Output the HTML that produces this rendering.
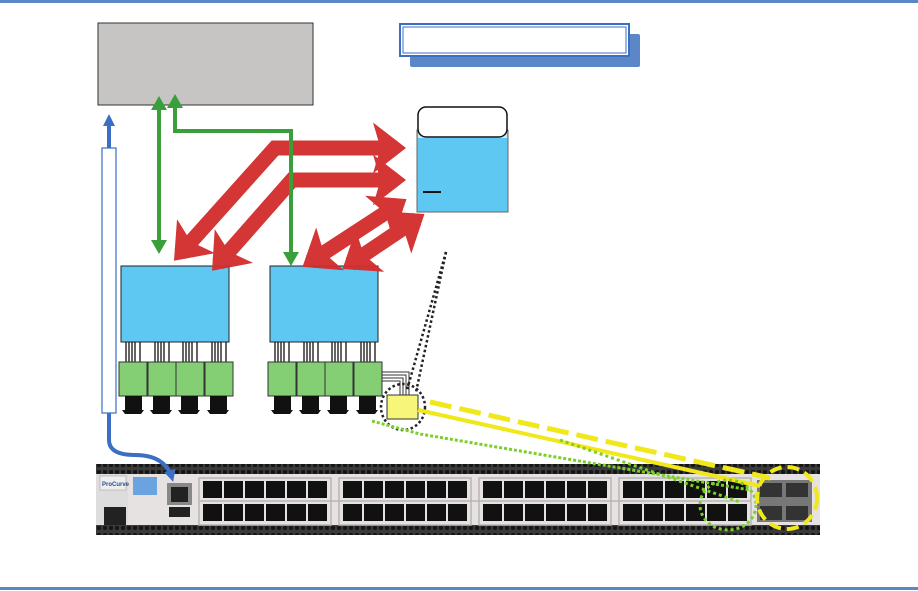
<!DOCTYPE html>
<html><head><style>body{margin:0;background:#fff}svg{display:block}</style></head><body>
<svg width="918" height="591" viewBox="0 0 918 591" xmlns="http://www.w3.org/2000/svg">
<defs>
<marker id="rh" markerWidth="2.2" markerHeight="3.4" refX="1.6" refY="1.7" orient="auto-start-reverse" markerUnits="strokeWidth"><path d="M0,0 L2.2,1.7 L0,3.4 L0.5,1.7 Z" fill="#d32f2f"/></marker>
<marker id="gh" markerWidth="3.5" markerHeight="4" refX="2.5" refY="2" orient="auto-start-reverse" markerUnits="strokeWidth"><path d="M0,0 L3.5,2 L0,4 Z" fill="#3a9e3a"/></marker>
<marker id="bh" markerWidth="3" markerHeight="3" refX="2" refY="1.5" orient="auto-start-reverse" markerUnits="strokeWidth"><path d="M0,0 L3,1.5 L0,3 Z" fill="#3a6fc4"/></marker>
<pattern id="dots" width="6" height="7" patternUnits="userSpaceOnUse"><rect width="6" height="7" fill="#3a3a3a"/><rect x="1" y="1" width="4" height="4" rx="1.5" fill="#151515"/></pattern>
</defs>
<rect x="0" y="0" width="918" height="3" fill="#5b86c8"/>
<rect x="0" y="587" width="918" height="3" fill="#5b86c8"/>

<rect x="98" y="23" width="215" height="82" fill="#c6c5c3" stroke="#333" stroke-width="1"/>

<rect x="410" y="34" width="230" height="33" rx="2" fill="#5b86c8"/>
<rect x="400" y="24" width="229" height="32" fill="#fff" stroke="#3a6fc4" stroke-width="2"/>
<rect x="403" y="27" width="223" height="26" fill="#fff" stroke="#3a6fc4" stroke-width="1"/>

<rect x="417" y="130" width="91" height="82" fill="#5ec8f2" stroke="#666" stroke-width="1"/>
<rect x="418" y="130" width="89" height="8" fill="#c8ecf8"/>
<rect x="418" y="107" width="89" height="30" rx="8" fill="#fff" stroke="#111" stroke-width="1.5"/>
<line x1="423" y1="192" x2="441" y2="192" stroke="#111" stroke-width="2"/>

<rect x="121" y="266" width="108" height="76" fill="#5ec8f2" stroke="#222"/>
<rect x="270" y="266" width="108" height="76" fill="#5ec8f2" stroke="#222"/>

<g id="mods">
<g stroke="#111" stroke-width="1.3">
<path d="M126,342v22M129,342v22M132,342v22M135,342v22M140,342v22M155,342v22M158,342v22M161,342v22M164,342v22M169,342v22M183,342v22M186,342v22M189,342v22M192,342v22M197,342v22M212,342v22M215,342v22M218,342v22M221,342v22M226,342v22"/>
</g>
<rect x="119" y="362" width="28" height="34" fill="#84cf74" stroke="#333"/>
<rect x="148" y="362" width="28" height="34" fill="#84cf74" stroke="#333"/>
<rect x="176" y="362" width="28" height="34" fill="#84cf74" stroke="#333"/>
<rect x="205" y="362" width="28" height="34" fill="#84cf74" stroke="#333"/>
<g fill="#111">
<rect x="125" y="396" width="17" height="14"/><path d="M122,410h22l-3,4h-16z"/>
<rect x="153" y="396" width="17" height="14"/><path d="M150,410h22l-3,4h-16z"/>
<rect x="181" y="396" width="17" height="14"/><path d="M178,410h22l-3,4h-16z"/>
<rect x="210" y="396" width="17" height="14"/><path d="M207,410h22l-3,4h-16z"/>
</g>
</g>
<use href="#mods" x="149"/>
<g fill="none" stroke="#333" stroke-width="1">
<path d="M382,372h27v24M382,375h24v21M382,378h21v18M382,381h18v15"/>
</g>
<rect x="387" y="395" width="31" height="24" fill="#f7f57a" stroke="#333"/>

<g fill="none" stroke="#222" stroke-width="2.5" stroke-dasharray="2.5 2.5">
<path d="M446,252 L407,390"/><path d="M446,252 L416,392"/>
<ellipse cx="403" cy="407" rx="22" ry="23"/>
</g>

<!-- switch -->
<rect x="96" y="464" width="724" height="71" fill="#e6e2e2"/>
<rect x="96" y="464" width="724" height="10" fill="url(#dots)"/>
<rect x="96" y="525" width="724" height="10" fill="url(#dots)"/>
<rect x="96" y="474" width="32" height="50" fill="#ddd"/>
<rect x="100" y="476" width="26" height="14" fill="#eee" stroke="#999" stroke-width=".5"/>
<text x="102" y="486" font-family="Liberation Sans" font-size="6" font-weight="bold" fill="#2a4a8a">ProCurve</text>
<rect x="104" y="507" width="22" height="18" fill="#222"/>
<rect x="133" y="477" width="24" height="18" fill="#6aa3e0"/>
<rect x="167" y="483" width="25" height="22" fill="#888"/><rect x="171" y="487" width="17" height="15" fill="#222"/>
<rect x="169" y="507" width="21" height="10" fill="#222"/>
<g fill="none" stroke="#b8b4b4" stroke-width="1.5">
<rect x="199" y="478" width="132" height="47"/><rect x="339" y="478" width="132" height="47"/><rect x="479" y="478" width="132" height="47"/><rect x="619" y="478" width="132" height="47"/>
<line x1="199" y1="501" x2="751" y2="501"/>
</g>
<g id="grp">
<g fill="#111">
<rect x="203" y="481" width="19" height="17"/><rect x="224" y="481" width="19" height="17"/><rect x="245" y="481" width="19" height="17"/><rect x="266" y="481" width="19" height="17"/><rect x="287" y="481" width="19" height="17"/><rect x="308" y="481" width="19" height="17"/>
<rect x="203" y="504" width="19" height="17"/><rect x="224" y="504" width="19" height="17"/><rect x="245" y="504" width="19" height="17"/><rect x="266" y="504" width="19" height="17"/><rect x="287" y="504" width="19" height="17"/><rect x="308" y="504" width="19" height="17"/>
</g>
</g>
<use href="#grp" x="140"/><use href="#grp" x="280"/><use href="#grp" x="420"/>
<rect x="757" y="480" width="55" height="42" fill="#777"/>
<rect x="760" y="483" width="22" height="14" fill="#333"/><rect x="786" y="483" width="22" height="14" fill="#333"/>
<rect x="760" y="506" width="22" height="14" fill="#333"/><rect x="786" y="506" width="22" height="14" fill="#333"/>

<path d="M418,410 L760,486" stroke="#f0e81a" stroke-width="4" fill="none"/>
<path d="M430,402 L770,478" stroke="#f0e81a" stroke-width="5" stroke-dasharray="22 8" fill="none"/>
<path d="M372,421 L420,434 L750,490" stroke="#7ccf2a" stroke-width="3" stroke-dasharray="3 2" fill="none"/>
<path d="M560,440 L740,502" stroke="#7ccf2a" stroke-width="3" stroke-dasharray="3 3" fill="none"/>
<ellipse cx="728" cy="505" rx="28" ry="25" fill="none" stroke="#7ccf2a" stroke-width="3" stroke-dasharray="3 3"/>
<ellipse cx="787" cy="498" rx="30" ry="31" fill="none" stroke="#f0e81a" stroke-width="4" stroke-dasharray="12 6"/>

<rect x="102" y="148" width="14" height="265" fill="#fff" stroke="#3a6fc4" stroke-width="1.2"/>
<line x1="109" y1="148" x2="109" y2="118" stroke="#3a6fc4" stroke-width="4" marker-end="url(#bh)"/>
<path d="M109,413 V440 Q109,455 135,455 Q165,455 172,478" fill="none" stroke="#3a6fc4" stroke-width="4" marker-end="url(#bh)"/>

<g fill="none" stroke="#d32f2f" stroke-width="15" opacity="0.97">
<path d="M397,148 L275,148 L180,254" marker-start="url(#rh)" marker-end="url(#rh)"/>
<path d="M397,180 L292,180 L218,264" marker-start="url(#rh)" marker-end="url(#rh)"/>
<path d="M399,204 L310,262" marker-start="url(#rh)" marker-end="url(#rh)"/>
<path d="M417,219 L350,264" marker-start="url(#rh)" marker-end="url(#rh)"/>
</g>

<g fill="none" stroke="#3a9e3a" stroke-width="4">
<path d="M159,100 V250" marker-start="url(#gh)" marker-end="url(#gh)"/>
<path d="M175,98 V131 H291 V262" marker-start="url(#gh)" marker-end="url(#gh)"/>
</g>
</svg>
</body></html>
